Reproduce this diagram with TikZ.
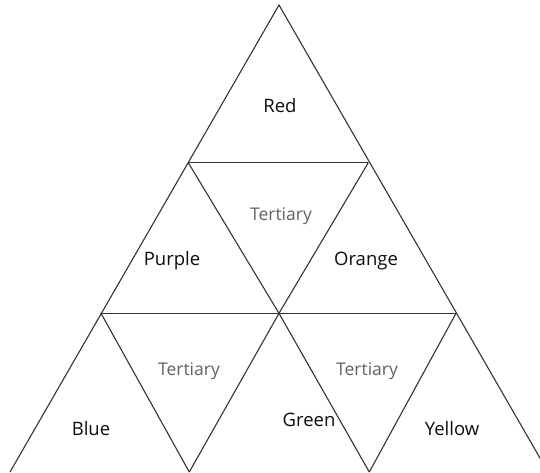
\documentclass[tikz,border=0pt]{standalone}
\usepackage{fontspec}
\setmainfont{Open Sans}
\begin{document}
\begin{tikzpicture}[x=1pt,y=-1pt,
  edge/.style={line width=1.1pt,draw=black!80,line join=miter},
  lbl/.style={font=\fontsize{18.5}{20}\selectfont,text=black!95,inner sep=0pt},
  tert/.style={font=\fontsize{17.5}{20}\selectfont,text=black!62,inner sep=0pt}]
\useasboundingbox (0,0) rectangle (540,472);
\clip (0,0) rectangle (540,472);
\coordinate (A) at (279,5);
\coordinate (B1) at (188.3,162.7);
\coordinate (B2) at (368.3,162.7);
\coordinate (C1) at (101,313.3);
\coordinate (C2) at (279,313.3);
\coordinate (C3) at (456,313.3);
\coordinate (D1) at (10,472);
\coordinate (D2) at (189.3,472);
\coordinate (D3) at (369.3,472);
\coordinate (D4) at (548,472);
\draw[edge] (D1) -- (A) -- (D4);
\draw[edge] (B1) -- (B2);
\draw[edge] (C1) -- (C3);
\draw[edge] (B1) -- (C2) -- (D3);
\draw[edge] (B2) -- (C2) -- (D2);
\draw[edge] (C1) -- (D2);
\draw[edge] (C3) -- (D3);
\node[lbl] (red) at (280,106) {Red};
\node[tert] (t1) at (281,216) {Tertiary};
\node[lbl] (purple) at (172,261) {Purple};
\node[lbl] (orange) at (366,261) {Orange};
\node[tert] (t2) at (189,371) {Tertiary};
\node[tert] (t3) at (367,371) {Tertiary};
\node[lbl] (blue) at (91,429) {Blue};
\node[lbl] (green) at (309,420) {Green};
\node[lbl] (yellow) at (452,429) {Yellow};
\end{tikzpicture}
\end{document}
